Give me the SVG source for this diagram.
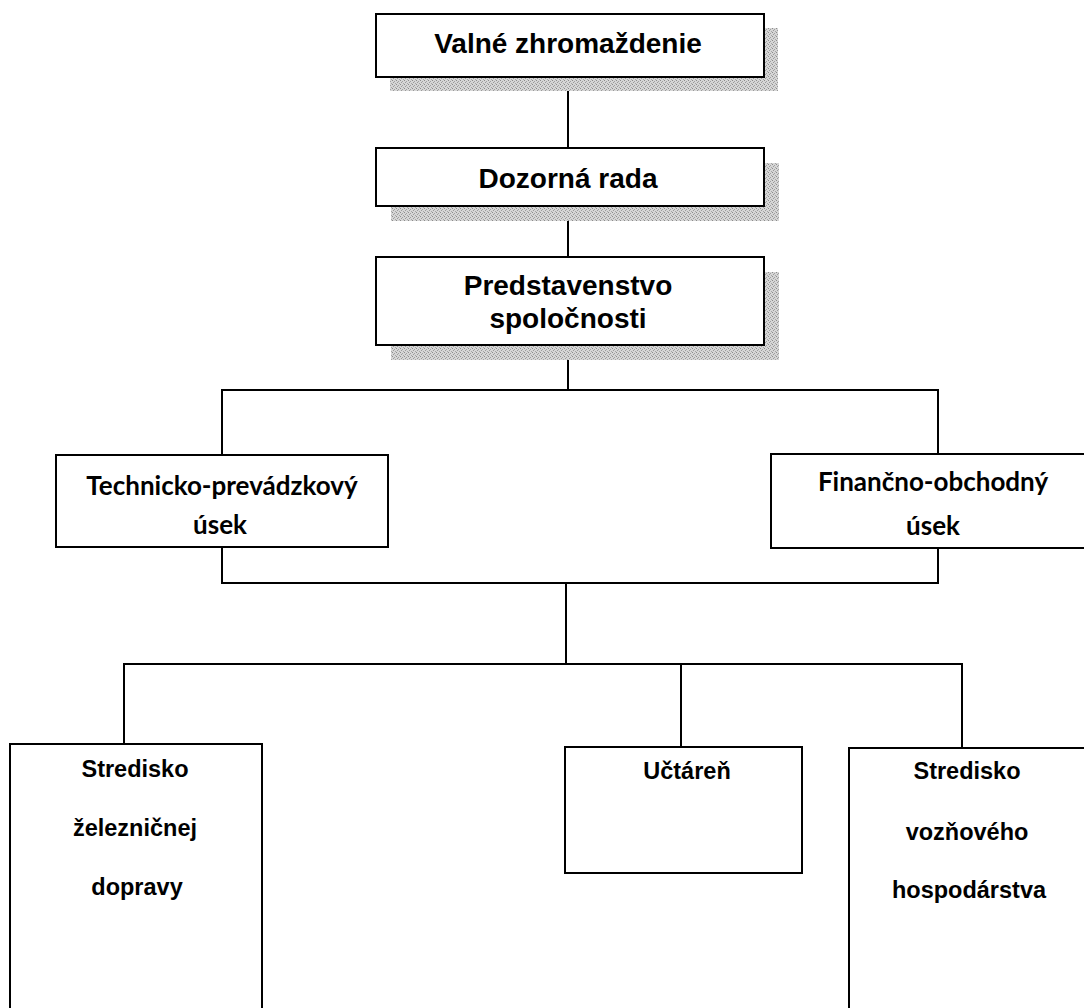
<svg xmlns="http://www.w3.org/2000/svg" width="1084" height="1008" viewBox="0 0 1084 1008">
<defs>
<pattern id="dither" width="4" height="4" patternUnits="userSpaceOnUse">
<rect width="4" height="4" fill="#d6d6d6"/>
<rect x="0" y="0" width="1" height="1" fill="#8c8c8c"/>
<rect x="2" y="1" width="1" height="1" fill="#a0a0a0"/>
<rect x="1" y="2" width="1" height="1" fill="#9a9a9a"/>
<rect x="3" y="3" width="1" height="1" fill="#a6a6a6"/>
</pattern>
</defs>
<style>
.box{fill:#ffffff;stroke:#000000;stroke-width:2}
.sh{fill:url(#dither)}
.ln{fill:none;stroke:#000000;stroke-width:2}
.t1{font-family:"Liberation Sans",Arial,sans-serif;font-weight:bold;font-size:28px;text-anchor:middle;fill:#000}
.t2{font-family:Lato,"Liberation Sans",sans-serif;font-weight:bold;font-size:26px;text-anchor:middle;fill:#000}
.t3{font-family:"Liberation Sans",Arial,sans-serif;font-weight:bold;font-size:23.5px;text-anchor:middle;fill:#000}
</style>
<rect width="1084" height="1008" fill="#ffffff"/>
<g id="connectors">
<path class="ln" d="M568 77V148M568 206V257M568 345V390M222 455V390H938V454"/>
<path class="ln" d="M222 547V583H938V548M566 583V664"/>
<path class="ln" d="M124 744V664H962V748M681 664V747"/>
</g>
<g id="n1">
<rect class="sh" x="390" y="28" width="388" height="63"/>
<rect class="box" x="376" y="14" width="388" height="63"/>
<text class="t1" x="568" y="53">Valné zhromaždenie</text>
</g>
<g id="n2">
<rect class="sh" x="391" y="163" width="388" height="58"/>
<rect class="box" x="376" y="148" width="388" height="58"/>
<text class="t1" x="568" y="188">Dozorná rada</text>
</g>
<g id="n3">
<rect class="sh" x="391" y="272" width="388" height="88"/>
<rect class="box" x="376" y="257" width="388" height="88"/>
<text class="t1" x="568" y="295">Predstavenstvo</text>
<text class="t1" x="568" y="328">spoločnosti</text>
</g>
<g id="n4">
<rect class="box" x="56" y="455" width="332" height="92"/>
<text class="t2" x="222" y="495">Technicko-prevádzkový</text>
<text class="t2" x="220" y="534">úsek</text>
</g>
<g id="n5">
<rect class="box" x="771" y="454" width="334" height="94"/>
<text class="t2" x="933" y="491">Finančno-obchodný</text>
<text class="t2" x="933" y="535">úsek</text>
</g>
<g id="n6">
<rect class="box" x="10" y="744" width="252" height="270"/>
<text class="t3" x="135" y="777">Stredisko</text>
<text class="t3" x="135" y="836">železničnej</text>
<text class="t3" x="137" y="895">dopravy</text>
</g>
<g id="n7">
<rect class="box" x="565" y="747" width="237" height="126"/>
<text class="t3" x="687" y="779">Učtáreň</text>
</g>
<g id="n8">
<rect class="box" x="849" y="748" width="240" height="270"/>
<text class="t3" x="967" y="779">Stredisko</text>
<text class="t3" x="967" y="840">vozňového</text>
<text class="t3" x="969" y="898">hospodárstva</text>
</g>
</svg>
